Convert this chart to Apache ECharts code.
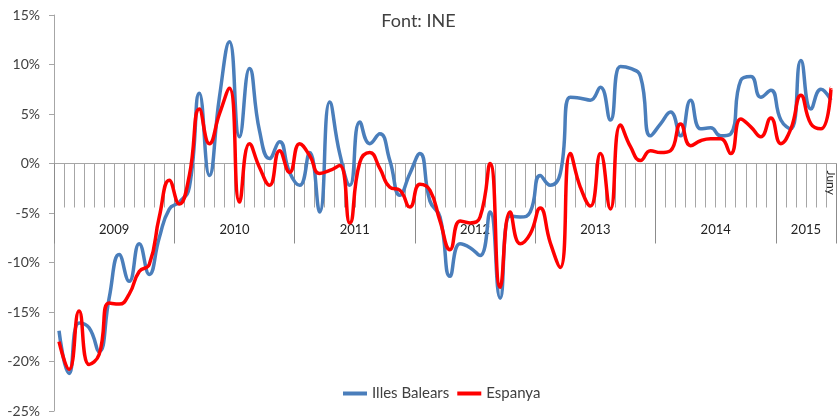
<!DOCTYPE html>
<html>
<head>
<meta charset="utf-8">
<script src="https://cdn.jsdelivr.net/npm/echarts@6/dist/echarts.min.js"></script>
<style>
  html, body { margin: 0; padding: 0; background: #fff; }
  #main { width: 837px; height: 416px; }
</style>
</head>
<body>
<div id="main"></div>
<script>
// anys i mesos (gener 2009 - juny 2015)
const years = ['2009', '2010', '2011', '2012', '2013', '2014', '2015'];
const monthNames = ['Gener', 'Febrer', 'Març', 'Abril', 'Maig', 'Juny', 'Juliol', 'Agost', 'Setembre', 'Octubre', 'Novembre', 'Desembre'];
const yearBreaks = [0, 12, 24, 36, 48, 60, 72, 78];
const yearLabelPos = [6, 18, 30, 42, 54, 66, 75];

// variació interanual (%)
const illesBalears = [
  -16.9, -21.2, -16.1, -16.6, -19.0, -13.6, -9.2, -11.9, -8.1, -11.2, -7.5, -4.6,
  -3.9, -2.4, 7.1, -1.2, 6.7, 12.3, 2.7, 9.6, 3.3, 0.5, 2.2, -0.9,
  -2.2, 1.1, -4.9, 6.2, 1.0, -2.2, 4.2, 2.0, 3.0, 0.3, -3.2, -1.0,
  1.0, -3.8, -5.4, -11.4, -8.1, -8.5, -9.3, -4.9, -13.6, -5.3, -5.4, -4.9,
  -1.2, -2.2, -1.0, 6.7, 6.6, 6.4, 7.7, 4.4, 9.8, 9.6, 8.8, 2.8,
  4.0, 5.2, 2.8, 6.4, 3.5, 3.6, 2.8, 3.0, 8.4, 8.8, 6.7, 7.4,
  4.4, 3.5, 10.4, 5.5, 7.5, 6.4
];
const espanya = [
  -18.0, -20.8, -14.9, -20.3, -19.3, -14.1, -14.2, -13.2, -10.9, -10.2, -5.4, -1.7,
  -4.1, -1.2, 5.5, 2.0, 5.0, 7.6, -3.9, 2.0, -0.4, -2.2, 1.3, -0.9,
  2.0, 0.8, -1.0, -0.7, -0.2, -6.0, 0.1, 1.1, -0.5, -2.4, -2.7, -4.4,
  -2.1, -2.7, -5.8, -8.7, -5.8, -6.0, -5.4, 0.0, -12.5, -4.9, -8.1, -7.1,
  -4.5, -8.0, -10.5, 1.0, -2.4, -4.3, 1.0, -4.6, 3.9, 1.7, 0.3, 1.3,
  1.1, 1.3, 4.0, 1.8, 2.3, 2.5, 2.5, 1.0, 4.5, 3.7, 2.7, 4.6,
  2.0, 3.5, 6.9, 4.0, 3.5, 7.6
];

// categories mensuals
const months = [];
years.forEach(y => monthNames.forEach(m => months.push(m + ' ' + y)));
months.length = illesBalears.length;

const yMin = -25, yMax = 15;
const gridTop = 15, gridBottom = 5;
// eix X a l'altura del 0%
const gridHeight = 416 - gridTop - gridBottom;
const zeroOffset = -gridHeight * (0 - yMin) / (yMax - yMin);

const textColor = '#404040';
const fontFamily = 'Lato, "Open Sans", sans-serif';

var myChart = echarts.init(document.getElementById('main'));

var option = {
  animation: false,
  textStyle: { fontFamily: fontFamily },
  title: {
    text: 'Font: INE',
    left: 'center',
    top: 7,
    textStyle: { fontSize: 18, fontWeight: 'normal', color: textColor, fontFamily: fontFamily }
  },
  legend: {
    data: ['Illes Balears', 'Espanya'],
    left: 338,
    top: 381,
    icon: 'rect',
    itemWidth: 24,
    itemHeight: 4,
    itemGap: 8,
    textStyle: { fontSize: 15, color: textColor, fontFamily: fontFamily }
  },
  grid: { left: 54, right: 1, top: gridTop, bottom: gridBottom, containLabel: false, outerBoundsMode: 'none' },
  xAxis: [
    {
      type: 'category',
      data: months,
      boundaryGap: true,
      position: 'bottom',
      offset: zeroOffset,
      axisLine: { onZero: false, lineStyle: { color: '#a6a6a6', width: 1 } },
      axisTick: { show: true, interval: 0, length: 44, lineStyle: { color: '#a6a6a6' } },
      axisLabel: {
        interval: 0,
        rotate: -90,
        margin: 7,
        fontSize: 12,
        color: '#222',
        formatter: function (v, i) {
          return i === months.length - 1 ? v.split(' ')[0] : '';
        }
      },
      splitLine: { show: false }
    },
    {
      type: 'value',
      min: 0,
      max: yearBreaks[yearBreaks.length - 1],
      position: 'bottom',
      offset: zeroOffset,
      axisLine: { show: false, onZero: false },
      axisTick: { show: true, customValues: yearBreaks, length: 80, lineStyle: { color: '#8c8c8c' } },
      axisLabel: {
        customValues: yearLabelPos,
        margin: 60,
        fontSize: 13,
        color: '#222',
        formatter: function (v) { return years[yearLabelPos.indexOf(v)]; }
      },
      splitLine: { show: false }
    }
  ],
  yAxis: {
    type: 'value',
    min: yMin,
    max: yMax,
    interval: 5,
    axisLine: { show: true, onZero: false, lineStyle: { color: '#a6a6a6' } },
    axisTick: { show: true, length: 5, lineStyle: { color: '#a6a6a6' } },
    axisLabel: { formatter: '{value}%', margin: 14, fontSize: 14, color: textColor },
    splitLine: { show: false }
  },
  series: [
    {
      name: 'Illes Balears',
      type: 'line',
      data: illesBalears,
      smooth: 0.5,
      symbol: 'none',
      lineStyle: { color: '#4a7ebb', width: 3.5 },
      itemStyle: { color: '#4a7ebb' }
    },
    {
      name: 'Espanya',
      type: 'line',
      data: espanya,
      smooth: 0.5,
      symbol: 'none',
      lineStyle: { color: '#ff0000', width: 3.5 },
      itemStyle: { color: '#ff0000' }
    }
  ]
};
myChart.setOption(option);
</script>
</body>
</html>
